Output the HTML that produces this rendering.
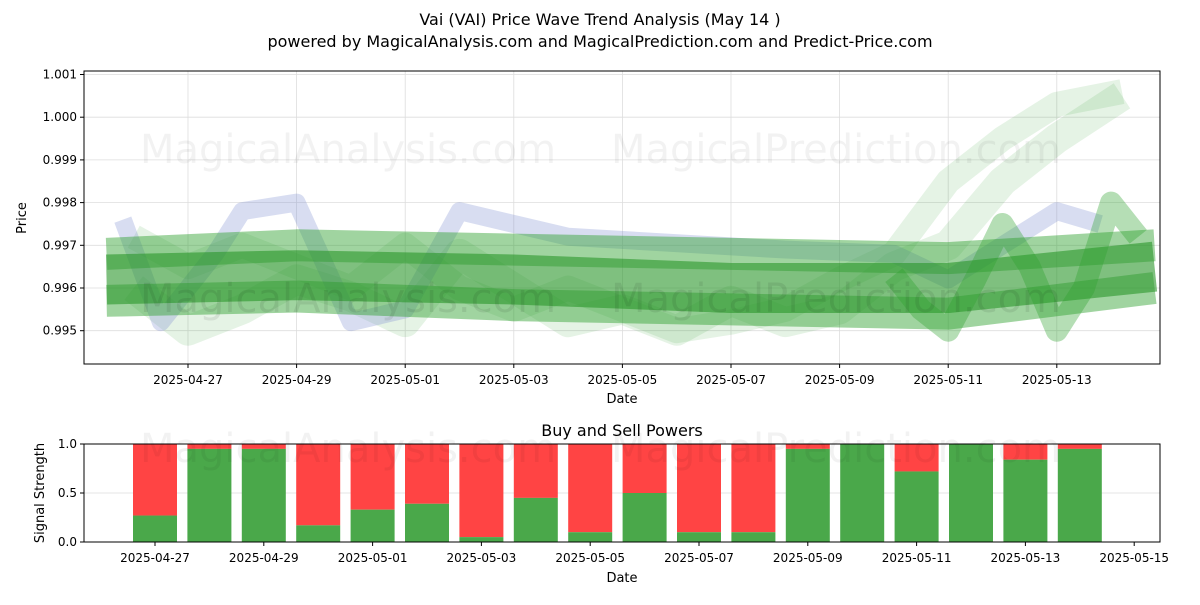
<!DOCTYPE html>
<html><head><meta charset="utf-8"><style>
body{margin:0;background:#fff;font-family:"Liberation Sans","DejaVu Sans",sans-serif}
svg text{font-family:"DejaVu Sans","Liberation Sans",sans-serif;fill:#000}
</style></head><body>
<svg id="c" width="1200" height="600" xmlns="http://www.w3.org/2000/svg">
<rect width="1200" height="600" fill="#fff"/>
<text x="600" y="25" font-size="16" text-anchor="middle">Vai (VAI) Price Wave Trend Analysis (May 14 )</text>
<text x="600" y="47" font-size="16" text-anchor="middle">powered by MagicalAnalysis.com and MagicalPrediction.com and Predict-Price.com</text>
<g id="top"></g>
<g id="bot"></g>
</svg>
<script>
// ---- data ----
const priceTicks=[0.995,0.996,0.997,0.998,0.999,1.000,1.001];
const topDateTicks=['2025-04-27','2025-04-29','2025-05-01','2025-05-03','2025-05-05','2025-05-07','2025-05-09','2025-05-11','2025-05-13'];
const botDateTicks=['2025-04-27','2025-04-29','2025-05-01','2025-05-03','2025-05-05','2025-05-07','2025-05-09','2025-05-11','2025-05-13','2025-05-15'];
// day offsets from 2025-04-25
const blueDays=[0.8,1.5,2.5,3,4,5,6,7,9,13,15,16,18,18.8];
const blueVals=[0.9976,0.9952,0.9968,0.9978,0.9980,0.9952,0.9955,0.9978,0.9972,0.9969,0.9968,0.9962,0.9978,0.9975];
const mainDays=[0.5,4,8,12,16,19.8];
const mainVals1=[0.9962,0.9963,0.9962,0.9960,0.9960,0.9965];
const mainVals2=[0.9968,0.9970,0.9969,0.9968,0.9967,0.9970];
const mainVals3=[0.9957,0.9958,0.9956,0.9955,0.9954,0.9960];
const lightDays=[1,2,3,4,5,6,7,8,9,10,11,12,13,14,15,16,17,18,19.2];
const lightVals1=[0.9960,0.9950,0.9955,0.9962,0.9958,0.9952,0.9968,0.9960,0.9952,0.9955,0.9950,0.9957,0.9952,0.9955,0.9965,0.9970,0.9985,0.9995,1.0005];
const lightVals2=[0.9972,0.9965,0.9970,0.9965,0.9960,0.9970,0.9960,0.9955,0.9960,0.9955,0.9950,0.9952,0.9955,0.9962,0.9968,0.9985,0.9995,1.0003,1.0006];
const waveDays=[15,15.5,16,16.5,17,17.5,18,18.5,19,19.5];
const waveVals=[0.9963,0.9955,0.9950,0.9962,0.9975,0.9965,0.9950,0.9960,0.9980,0.9972];
const barDates=['04-27','04-28','04-29','04-30','05-01','05-02','05-03','05-04','05-05','05-06','05-07','05-08','05-09','05-10','05-11','05-12','05-13','05-14'];
const buyVals=[0.27,0.95,0.95,0.17,0.33,0.39,0.05,0.45,0.10,0.50,0.10,0.10,0.95,1.0,0.72,1.0,0.84,0.95];
// ---- axes ----
const NS='http://www.w3.org/2000/svg';
function mk(t,a,p){const e=document.createElementNS(NS,t);for(const k in a)e.setAttribute(k,a[k]);p.appendChild(e);return e;}
const topG=document.getElementById('top'),botG=document.getElementById('bot');
const TX0=84,TX1=1160,TY0=71,TY1=364;
const tx=d=>79.4+d*54.3;
const ty=v=>288-(v-0.996)*42700;
const bx=i=>155+i*54.4;
const by=v=>542-v*98;
priceTicks.forEach(v=>{const y=ty(v);
 const g=mk('line',{x1:TX0,x2:TX1,y1:y,y2:y,stroke:'#ddd','stroke-width':0.8},topG);
 
 
 mk('line',{x1:TX0-4,x2:TX0,y1:y,y2:y,stroke:'#000'},topG);
 const t=mk('text',{x:TX0-7,y:y+4,'font-size':12,'text-anchor':'end'},topG);t.textContent=v.toFixed(3);
 
 });
topDateTicks.forEach((s,i)=>{const x=tx(2+2*i);
 mk('line',{x1:x,x2:x,y1:TY0,y2:TY1,stroke:'#ddd','stroke-width':0.8},topG);
 mk('line',{x1:x,x2:x,y1:TY1,y2:TY1+4,stroke:'#000'},topG);
 const t=mk('text',{x:x,y:TY1+20,'font-size':12,'text-anchor':'middle'},topG);t.textContent=s;
 
 });
function line(days,vals,color,w,op){const pts=days.map((d,i)=>tx(d)+','+ty(vals[i])).join(' ');
 const p=mk('polyline',{points:pts,fill:'none',stroke:color,'stroke-width':w,'stroke-opacity':op,'stroke-linejoin':'round'},topG);
 
 }
line(lightDays,lightVals1,'#2ca02c',30,0.12);
line(lightDays,lightVals2,'#2ca02c',25,0.12);
line(blueDays,blueVals,'#7f8fd0',18,0.3);
line(mainDays,mainVals2,'#2ca02c',32,0.45);
line(mainDays,mainVals3,'#2ca02c',32,0.45);
line(mainDays,mainVals1,'#2a962a',50,0.6);
line(waveDays,waveVals,'#2ca02c',22,0.35);
let wm=mk('text',{x:348,y:163,'font-size':40,'text-anchor':'middle',fill:'#000','fill-opacity':0.05},topG);wm.textContent='MagicalAnalysis.com';
wm=mk('text',{x:836,y:163,'font-size':40,'text-anchor':'middle',fill:'#000','fill-opacity':0.05},topG);wm.textContent='MagicalPrediction.com';
wm=mk('text',{x:348,y:312,'font-size':40,'text-anchor':'middle',fill:'#000','fill-opacity':0.08},topG);wm.textContent='MagicalAnalysis.com';
wm=mk('text',{x:836,y:312,'font-size':40,'text-anchor':'middle',fill:'#000','fill-opacity':0.08},topG);wm.textContent='MagicalPrediction.com';
mk('rect',{x:TX0,y:TY0,width:TX1-TX0,height:TY1-TY0,fill:'none',stroke:'#000','stroke-width':1},topG);
let t=mk('text',{x:622,y:403,'font-size':13,'text-anchor':'middle'},topG);t.textContent='Date';
t=mk('text',{x:0,y:0,'font-size':13,'text-anchor':'middle',transform:'translate(26,218) rotate(-90)'},topG);t.textContent='Price';
// bottom
const BX0=84,BX1=1160,BY0=444,BY1=542;
t=mk('text',{x:622,y:436,'font-size':16,'text-anchor':'middle'},botG);t.textContent='Buy and Sell Powers';
[0,0.5,1].forEach(v=>{const y=by(v);
 mk('line',{x1:BX0,x2:BX1,y1:y,y2:y,stroke:'#ddd','stroke-width':0.8},botG);
 mk('line',{x1:BX0-4,x2:BX0,y1:y,y2:y,stroke:'#000'},botG);
 const tt=mk('text',{x:BX0-7,y:y+4,'font-size':12,'text-anchor':'end'},botG);tt.textContent=v.toFixed(1);});
buyVals.forEach((v,i)=>{const x=bx(i)-22;
 const r=mk('rect',{x:x,y:by(1),width:44,height:by(v)-by(1),fill:'#ff4444'},botG);
 
 
 const g=mk('rect',{x:x,y:by(v),width:44,height:BY1-by(v),fill:'#4aa84a'},botG);
 
 });
wm=mk('text',{x:348,y:462,'font-size':40,'text-anchor':'middle',fill:'#000','fill-opacity':0.05},botG);wm.textContent='MagicalAnalysis.com';
wm=mk('text',{x:836,y:462,'font-size':40,'text-anchor':'middle',fill:'#000','fill-opacity':0.05},botG);wm.textContent='MagicalPrediction.com';
botDateTicks.forEach((s,i)=>{const x=bx(2*i);
 mk('line',{x1:x,x2:x,y1:BY1,y2:BY1+4,stroke:'#000'},botG);
 const tt=mk('text',{x:x,y:BY1+20,'font-size':12,'text-anchor':'middle'},botG);tt.textContent=s;
 
 });
mk('rect',{x:BX0,y:BY0,width:BX1-BX0,height:BY1-BY0,fill:'none',stroke:'#000'},botG);
t=mk('text',{x:622,y:582,'font-size':13,'text-anchor':'middle'},botG);t.textContent='Date';
t=mk('text',{x:0,y:0,'font-size':13,'text-anchor':'middle',transform:'translate(44,493) rotate(-90)'},botG);t.textContent='Signal Strength';
</script>
</body></html>
